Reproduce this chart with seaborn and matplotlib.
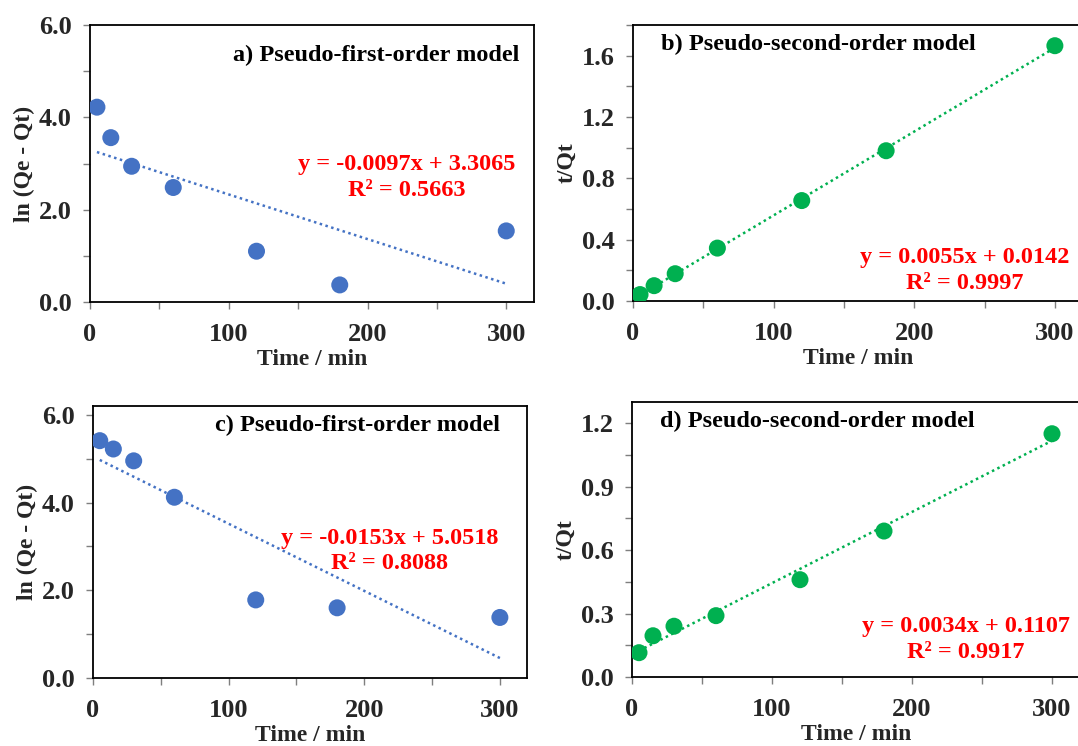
import seaborn as sns
import matplotlib.pyplot as plt
from matplotlib.ticker import MultipleLocator, FormatStrFormatter

# contact time (min)
time_min = [5, 15, 30, 60, 120, 180, 300]

# values
ln_qe_qt_a = [4.22, 3.56, 2.94, 2.48, 1.10, 0.37, 1.54]
t_qt_b = [0.042, 0.100, 0.178, 0.345, 0.655, 0.980, 1.665]
ln_qe_qt_c = [5.41, 5.22, 4.95, 4.12, 1.78, 1.60, 1.38]
t_qt_d = [0.115, 0.195, 0.240, 0.290, 0.460, 0.690, 1.150]

panel_titles = ["a) Pseudo-first-order model", "b) Pseudo-second-order model",
                "c) Pseudo-first-order model", "d) Pseudo-second-order model"]
equations = ["y = -0.0097x + 3.3065\nR\u00b2 = 0.5663",
             "y = 0.0055x + 0.0142\nR\u00b2 = 0.9997",
             "y = -0.0153x + 5.0518\nR\u00b2 = 0.8088",
             "y = 0.0034x + 0.1107\nR\u00b2 = 0.9917"]
y_labels = ["ln (Qe - Qt)", "t/Qt", "ln (Qe - Qt)", "t/Qt"]

BLUE = "#4472C4"
GREEN = "#00B050"
RED = "#FF0000"

sns.set_style("ticks")
plt.rcParams['font.family'] = ['Liberation Serif', 'DejaVu Serif']
plt.rcParams['font.weight'] = 'bold'
plt.rcParams['axes.labelweight'] = 'bold'

fig = plt.figure(figsize=(10.78, 7.46), dpi=100)
W, H = 1078, 746


def px_axes(left, top, right, bottom):
    return fig.add_axes([left / W, 1 - bottom / H, (right - left) / W, (bottom - top) / H])


axes = [px_axes(90, 25, 534, 302),
        px_axes(633, 25, 1083, 301),
        px_axes(93, 406, 527, 678),
        px_axes(632, 402, 1080, 677)]

series = [ln_qe_qt_a, t_qt_b, ln_qe_qt_c, t_qt_d]
colors = [BLUE, GREEN, BLUE, GREEN]
ylims = [(0, 6), (0, 1.8), (0, 6.2), (0, 1.3)]
ymajor = [2.0, 0.4, 2.0, 0.3]
title_pos = [(0.968, 0.89, 'right'), (0.062, 0.93, 'left'),
             (0.938, 0.93, 'right'), (0.0625, 0.93, 'left')]
eq_pos = [(0.714, 0.45), (0.738, 0.11), (0.684, 0.467), (0.746, 0.135)]

for i, ax in enumerate(axes):
    sns.regplot(x=time_min, y=series[i], ax=ax, ci=None, color=colors[i],
                scatter_kws=dict(s=150, edgecolor='none', alpha=1, zorder=3),
                line_kws=dict(linestyle=(0, (1, 1.4)), linewidth=1.8, zorder=2))
    ax.set_xlim(0, 320)
    ax.set_ylim(*ylims[i])
    ax.xaxis.set_major_locator(MultipleLocator(100))
    ax.xaxis.set_minor_locator(MultipleLocator(50))
    ax.yaxis.set_major_locator(MultipleLocator(ymajor[i]))
    ax.yaxis.set_minor_locator(MultipleLocator(ymajor[i] / 2))
    ax.yaxis.set_major_formatter(FormatStrFormatter('%.1f'))
    ax.tick_params(which='both', direction='out', length=5, width=1,
                   color='#7f7f7f', labelsize=19)
    ax.tick_params(axis='x', pad=10)
    ax.tick_params(axis='y', pad=8)
    for sp in ax.spines.values():
        sp.set_visible(True)
        sp.set_color('black')
        sp.set_linewidth(1.3)
    ax.set_xlabel("Time / min", fontsize=17, fontweight='bold', labelpad=2)
    ax.set_ylabel(y_labels[i], fontsize=17, fontweight='bold', labelpad=3)
    tx, ty, ha = title_pos[i]
    ax.text(tx, ty, panel_titles[i], transform=ax.transAxes, ha=ha, va='center',
            fontsize=17.5, fontweight='bold', color='black')
    ex, ey = eq_pos[i]
    ax.text(ex, ey, equations[i], transform=ax.transAxes, ha='center', va='center',
            fontsize=17.5, fontweight='bold', color=RED, linespacing=1.3,
            multialignment='center')

fig.savefig("out.png", dpi=100)
